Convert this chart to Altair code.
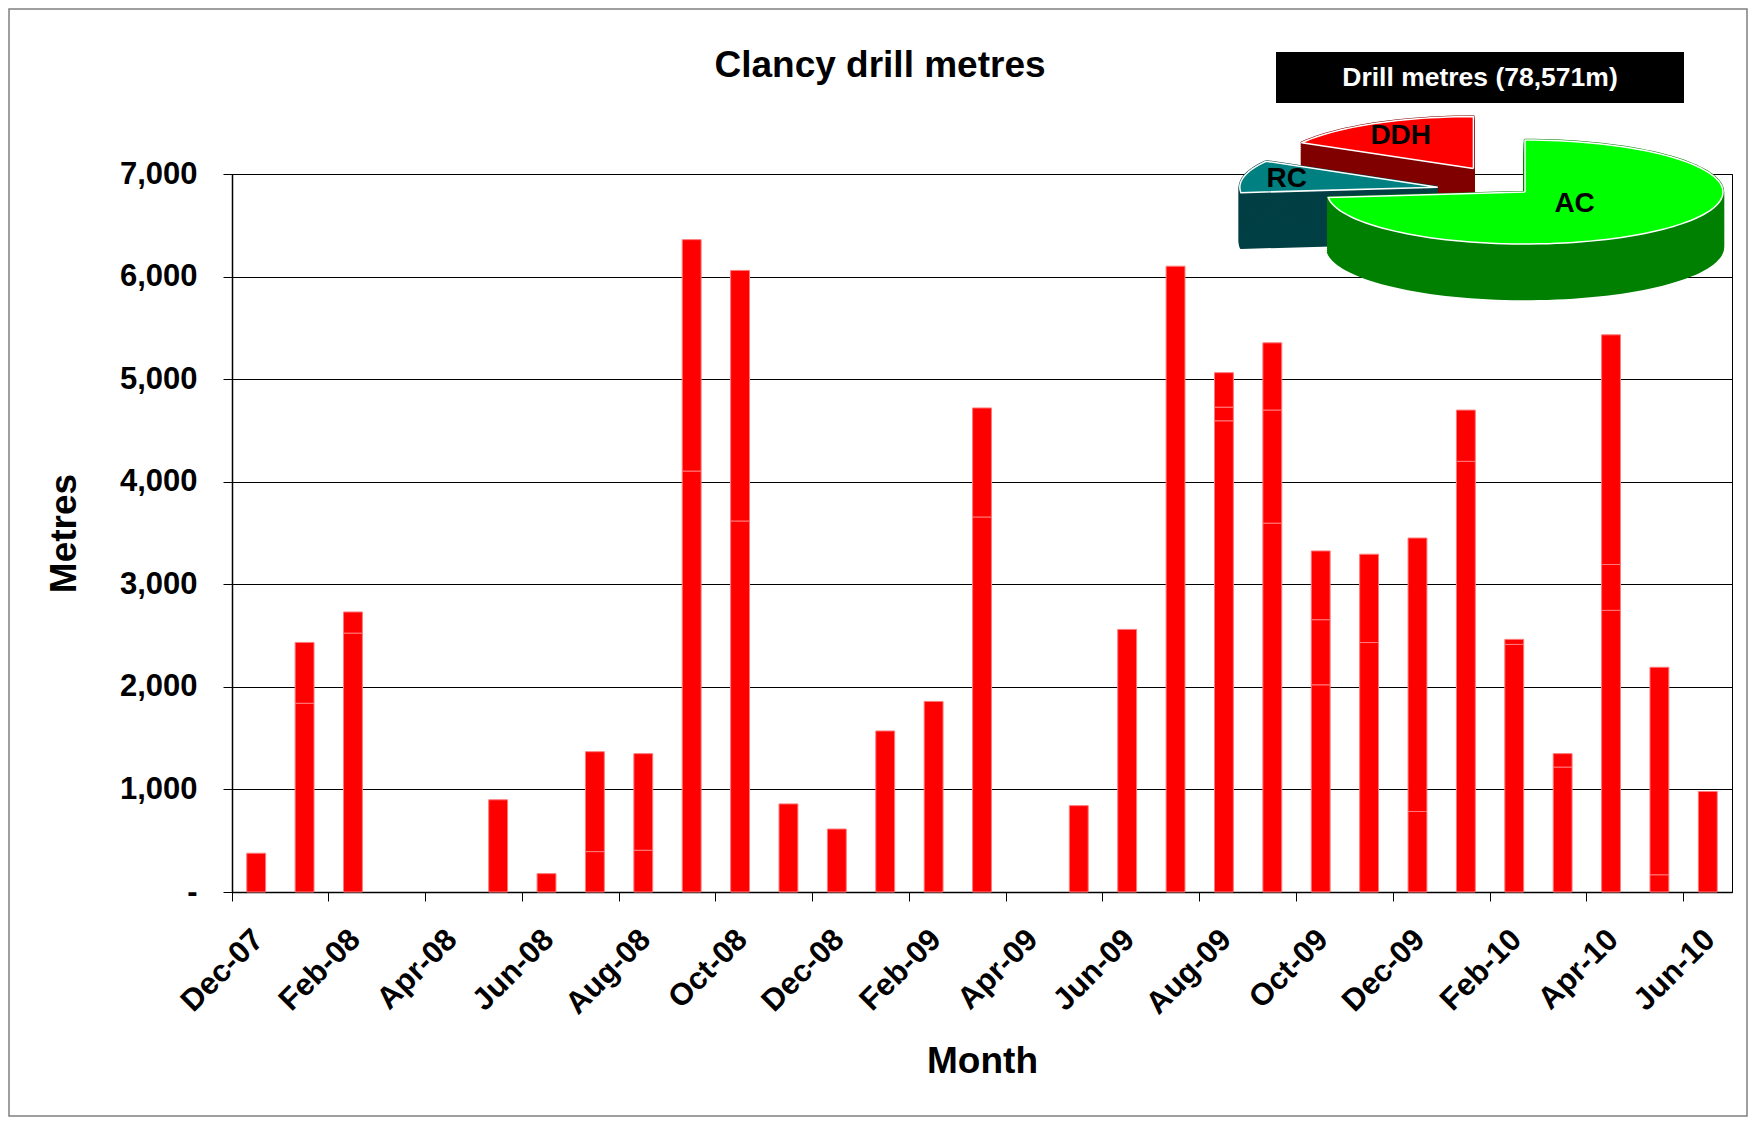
import math
import altair as alt
import pandas as pd

FONT = "Liberation Sans"

# ---------------- data ----------------
months = ["Dec-07", "Jan-08", "Feb-08", "Mar-08", "Apr-08", "May-08", "Jun-08",
          "Jul-08", "Aug-08", "Sep-08", "Oct-08", "Nov-08", "Dec-08", "Jan-09",
          "Feb-09", "Mar-09", "Apr-09", "May-09", "Jun-09", "Jul-09", "Aug-09",
          "Sep-09", "Oct-09", "Nov-09", "Dec-09", "Jan-10", "Feb-10", "Mar-10",
          "Apr-10", "May-10", "Jun-10"]

# stacked parts of each monthly bar (metres), bottom -> top
seg_lower = [378, 1840, 2524, 0, 0, 899, 179, 394, 407, 4104, 3617, 859, 614, 1570,
             1858, 3656, 0, 842, 2560, 6101, 4594, 3596, 2020, 2432, 785, 4199, 2414,
             1218, 2746, 168, 980]
seg_middle = [0, 0, 0, 0, 0, 0, 0, 0, 0, 0, 0, 0, 0, 0,
              0, 0, 0, 0, 0, 0, 133, 1103, 635, 0, 0, 0, 0,
              0, 447, 0, 0]
seg_upper = [0, 593, 206, 0, 0, 0, 0, 974, 942, 2256, 2443, 0, 0, 0,
             0, 1063, 0, 0, 0, 0, 336, 655, 670, 861, 2666, 499, 49,
             131, 2239, 2023, 0]

y_ticks = [0, 1000, 2000, 3000, 4000, 5000, 6000, 7000]
x_label_months = months[::2]

pie_types = ["AC", "RC", "DDH"]
pie_metres = [57600, 7850, 13121]
pie_explode = [0.0, 0.45, 0.52]
pie_top_colors = ["#00FF00", "#008080", "#FF0000"]
pie_side_colors = ["#008000", "#003F44", "#800000"]

chart_title = "Clancy drill metres"
pie_title = "Drill metres (78,571m)"

# ---------------- layout constants ----------------
W, H = 1500, 718
PIE_CX, PIE_CY = 1293, 18      # pie centre in plot pixels
PIE_A, PIE_B = 198, 52         # ellipse semi-axes in pixels
PIE_DEPTH = 55 / 52            # depth in y-units
N_COPIES = 28

# ---------------- bar table ----------------
bar_rows = []
for m, month in enumerate(months):
    for o, (part, arr) in enumerate([("lower", seg_lower), ("middle", seg_middle), ("upper", seg_upper)]):
        if arr[m] > 0:
            bar_rows.append({"month": month, "part": part, "ord": o, "metres": arr[m]})
bar_df = pd.DataFrame(bar_rows)

# ---------------- pie tables ----------------
total = sum(pie_metres)
pie_rows, label_rows = [], []
acc = 0
for name, val, e in zip(pie_types, pie_metres, pie_explode):
    a0 = 2 * math.pi * acc / total
    a1 = 2 * math.pi * (acc + val) / total
    acc += val
    mid = (a0 + a1) / 2
    ox, oy = e * math.sin(mid), e * math.cos(mid)
    n = max(10, int(math.degrees(a1 - a0) / 2.5))
    outline = [(ox, oy)]
    for j in range(n + 1):
        a = a0 + (a1 - a0) * j / n
        outline.append((ox + math.sin(a), oy + math.cos(a)))
    outline.append((ox, oy))
    for k in range(N_COPIES):
        dy = PIE_DEPTH * k / (N_COPIES - 1)
        for i, (x, y) in enumerate(outline):
            pie_rows.append({"slice": name, "face": "side", "k": k, "i": i, "px": x, "py": y - dy})
    for i, (x, y) in enumerate(outline):
        pie_rows.append({"slice": name, "face": "top", "k": 0, "i": i, "px": x, "py": y})
    # smaller slices get their label further out
    lr = 0.85 - 0.7 * val / total
    label_rows.append({"slice": name,
                       "lx": ox + lr * math.sin(mid),
                       "ly": oy + lr * math.cos(mid)})
pie_df = pd.DataFrame(pie_rows)
label_df = pd.DataFrame(label_rows)

xdom = [-PIE_CX / PIE_A, (W - PIE_CX) / PIE_A]
ydom = [-(H - PIE_CY) / PIE_B, PIE_CY / PIE_B]
px_enc = alt.X("px:Q", scale=alt.Scale(domain=xdom, nice=False, zero=False), axis=None)
py_enc = alt.Y("py:Q", scale=alt.Scale(domain=ydom, nice=False, zero=False), axis=None)

# ---------------- bars ----------------
bars = alt.Chart(bar_df).mark_bar(
    color="#FF0000", stroke="#FF7A7A", strokeWidth=1,
    width=alt.RelativeBandSize(0.39)
).encode(
    x=alt.X("month:N", sort=months,
            scale=alt.Scale(domain=months, paddingInner=0, paddingOuter=0),
            axis=alt.Axis(values=x_label_months, title="Month", labelAngle=315,
                          labelAlign="right", labelBaseline="top", bandPosition=0,
                          tickSize=9, labelPadding=23, labelOffset=-8, titlePadding=24,
                          grid=False, labelOverlap=False, domainWidth=1.5)),
    y=alt.Y("metres:Q", stack="zero",
            scale=alt.Scale(domain=[0, 7000], nice=False),
            axis=alt.Axis(values=y_ticks, title="Metres", grid=True, gridWidth=1,
                          tickSize=9, labelPadding=26, titlePadding=36, domainWidth=1.5,
                          labelExpr="datum.value == 0 ? '-\u00a0\u00a0' : format(datum.value, ',')")),
    detail="part:N",
    order=alt.Order("ord:Q"),
)

# ---------------- pie layers (back to front) ----------------
pie_layers = []
for name in ["DDH", "RC", "AC"]:
    idx = pie_types.index(name)
    side = alt.Chart(pie_df).transform_filter(
        (alt.datum.slice == name) & (alt.datum.face == "side")
    ).mark_line(fill=pie_side_colors[idx], stroke=pie_side_colors[idx], strokeWidth=2.5,
                strokeJoin="round").encode(
        x=px_enc, y=py_enc, detail="k:N", order=alt.Order("i:Q"))
    top = alt.Chart(pie_df).transform_filter(
        (alt.datum.slice == name) & (alt.datum.face == "top")
    ).mark_line(fill=pie_top_colors[idx], stroke="white", strokeWidth=1.5,
                strokeJoin="round").encode(
        x=px_enc, y=py_enc, detail="k:N", order=alt.Order("i:Q"))
    pie_layers += [side, top]

pie_labels = alt.Chart(label_df).mark_text(
    font=FONT, fontSize=28, fontWeight="bold", color="black",
    align="center", baseline="middle"
).encode(
    x=alt.X("lx:Q", scale=alt.Scale(domain=xdom, nice=False, zero=False), axis=None),
    y=alt.Y("ly:Q", scale=alt.Scale(domain=ydom, nice=False, zero=False), axis=None),
    text="slice:N",
)

one = pd.DataFrame({"t": [0]})

header_box = alt.Chart(one).mark_rect(color="black").encode(
    x=alt.value(1044), x2=alt.value(1452), y=alt.value(-122), y2=alt.value(-71))
header_text = alt.Chart(one).mark_text(
    font=FONT, fontSize=26.5, fontWeight="bold", color="white",
    align="center", baseline="middle"
).encode(x=alt.value(1248), y=alt.value(-96), text=alt.value(pie_title))

title_text = alt.Chart(one).mark_text(
    font=FONT, fontSize=37, fontWeight="bold", color="black",
    align="center", baseline="alphabetic"
).encode(x=alt.value(648), y=alt.value(-97), text=alt.value(chart_title))

border = alt.Chart(one).mark_rect(
    fill="transparent", stroke="#808080", strokeWidth=1.5
).encode(x=alt.value(-223), x2=alt.value(1515), y=alt.value(-165), y2=alt.value(942))

chart = alt.layer(
    border, bars, *pie_layers, pie_labels, header_box, header_text, title_text
).resolve_scale(
    x="independent", y="independent"
).properties(
    width=W, height=H,
    padding={"left": 224, "top": 166, "right": 16, "bottom": 225},
    autosize=alt.AutoSizeParams(type="none"),
    background="white",
).configure_view(
    stroke="#000000", strokeWidth=1
).configure_axis(
    labelFont=FONT, titleFont=FONT, labelFontWeight="bold", titleFontWeight="bold",
    labelFontSize=31, titleFontSize=37, labelColor="#000000", titleColor="#000000",
    domainColor="#000000", tickColor="#000000", gridColor="#000000",
)

chart.save("out.html", embed_options={"renderer": "svg", "actions": False})
